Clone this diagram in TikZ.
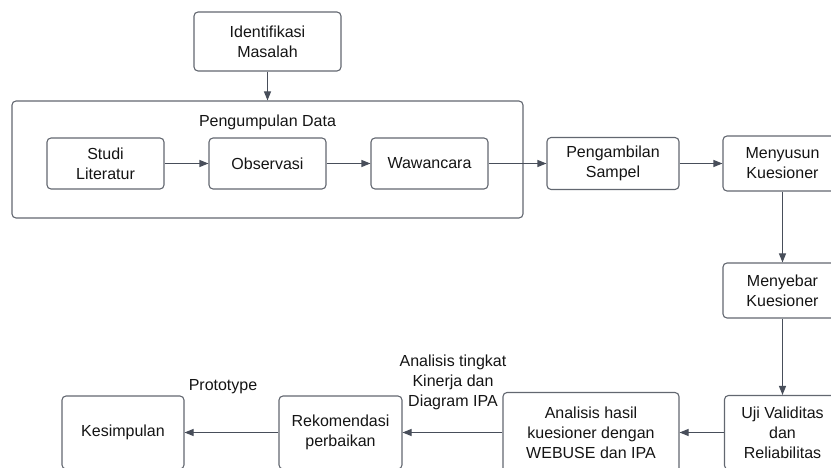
\documentclass[tikz,border=0pt]{standalone}
\usepackage{fontspec}
\setmainfont{Liberation Sans}
\usetikzlibrary{arrows.meta}

\begin{document}
\begin{tikzpicture}[x=1pt,y=-1pt,
  box/.style={draw=boxcolor,line width=1.1pt,rounded corners=4pt,align=center,inner sep=0pt,text=textcolor},
  flow/.style={draw=pathcolor,line width=1.1pt,-{Triangle[length=9pt,width=7pt]}},
  lbl/.style={align=center,inner sep=0pt,text=textcolor}]
\definecolor{boxcolor}{RGB}{98,103,112}
\definecolor{pathcolor}{RGB}{72,78,90}
\definecolor{textcolor}{RGB}{20,20,20}
\fontsize{16}{20}\selectfont
\useasboundingbox (0,0) rectangle (831,468);
\clip (0,0) rectangle (831,468);
\node [box,minimum width=147pt,minimum height=59pt] (idm) at (267.5,41.5) {Identifikasi\\Masalah};
\node [box,minimum width=511pt,minimum height=117pt] (data) at (267.5,159.5) {};
\node [lbl] (datatitle) at (267.5,122) {Pengumpulan Data};
\node [box,minimum width=117pt,minimum height=51pt] (studi) at (105.5,163.5) {Studi\\Literatur};
\node [box,minimum width=117pt,minimum height=51pt] (obs) at (267.5,163.5) {Observasi};
\node [box,minimum width=117pt,minimum height=51pt] (waw) at (429.5,163.5) {Wawancara};
\node [box,minimum width=132pt,minimum height=52pt] (sampel) at (613,163.5) {Pengambilan\\Sampel};
\node [box,minimum width=119pt,minimum height=55pt] (susun) at (782.5,163.5) {Menyusun\\Kuesioner};
\node [box,minimum width=119pt,minimum height=55pt] (sebar) at (782.5,290.5) {Menyebar\\Kuesioner};
\node [box,minimum width=116pt,minimum height=74pt] (uji) at (782.5,432.5) {Uji Validitas\\dan\\Reliabilitas};
\node [box,minimum width=176pt,minimum height=80pt] (hasil) at (591,432.5) {Analisis hasil\\kuesioner dengan\\WEBUSE dan IPA};
\node [box,minimum width=123pt,minimum height=73pt] (rekom) at (340.5,432.5) {Rekomendasi\\perbaikan};
\node [box,minimum width=122pt,minimum height=73pt] (kesim) at (123,432.5) {Kesimpulan};
\node [lbl] (proto) at (223,387) {Prototype};
\node [lbl] (ipa) at (453,382) {Analisis tingkat\\Kinerja dan\\Diagram IPA};
\draw [flow] (idm) -- (data);
\draw [flow] (studi) -- (obs);
\draw [flow] (obs) -- (waw);
\draw [flow] (waw) -- (sampel);
\draw [flow] (sampel) -- (susun);
\draw [flow] (susun) -- (sebar);
\draw [flow] (sebar) -- (uji);
\draw [flow] (uji) -- (hasil);
\draw [flow] (hasil) -- (rekom);
\draw [flow] (rekom) -- (kesim);
\end{tikzpicture}
\end{document}
